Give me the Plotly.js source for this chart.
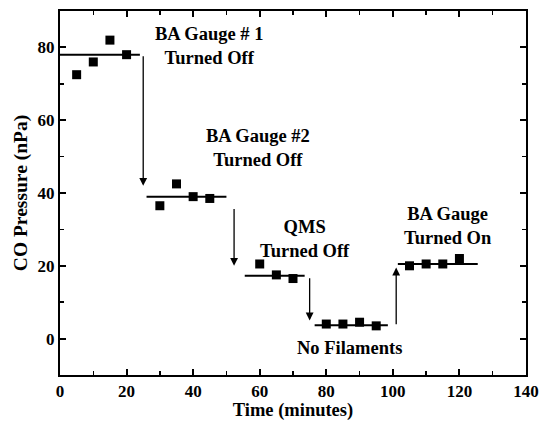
<!DOCTYPE html>
<html><head><meta charset="utf-8">
<script src="https://cdn.plot.ly/plotly-3.0.1.min.js"></script>
<style>html,body{margin:0;padding:0;background:#fff}</style>
</head><body><div id="chart" style="width:543px;height:421px"></div>
<script>
// measured points (time in minutes, CO pressure in nPa)
const timeMin = [5, 10, 15, 20, 30, 35, 40, 45, 60, 65, 70, 80, 85, 90, 95, 105, 110, 115, 120];
const pressure = [72.5, 76, 82, 78, 36.5, 42.5, 39, 38.5, 20.5, 17.5, 16.5, 4, 4, 4.5, 3.5, 20, 20.5, 20.5, 22];

// average levels (horizontal segments)
const levelStart = [0, 26, 55.5, 76.5, 101.5];
const levelEnd = [24, 50, 73.5, 98.5, 125.5];
const levelValue = [78, 39, 17.3, 3.7, 20.5];

// transition arrows
const arrowX = [25, 52.3, 75, 101];
const arrowFrom = [78, 36, 17, 3.5];
const arrowTo = [42, 20, 5, 19.5];

// labels
const labelText = ["BA Gauge # 1<br>Turned Off", "BA Gauge #2<br>Turned Off", "QMS<br>Turned Off", "BA Gauge<br>Turned On", "No Filaments"];
const labelX = [44.7, 59.5, 73.5, 116.5, 87];
const labelY = [80.5, 52.5, 27.5, 31, -2.6];

const font = "Liberation Serif, Times New Roman, serif";
const traces = [];
for (let i = 0; i < levelValue.length; i++) {
  traces.push({x: [levelStart[i], levelEnd[i]], y: [levelValue[i], levelValue[i]], mode: 'lines',
    line: {color: '#000', width: 2}, showlegend: false, hoverinfo: 'skip'});
}
traces.push({x: timeMin, y: pressure, mode: 'markers', type: 'scatter',
  marker: {symbol: 'square', size: 9, color: '#000'}, showlegend: false});

const annotations = [];
for (let i = 0; i < arrowX.length; i++) {
  annotations.push({x: arrowX[i], y: arrowTo[i], ax: arrowX[i], ay: arrowFrom[i], axref: 'x', ayref: 'y',
    xref: 'x', yref: 'y', showarrow: true, arrowhead: 2, arrowsize: 1.2, arrowwidth: 1.3, arrowcolor: '#000', text: ''});
}
for (let i = 0; i < labelText.length; i++) {
  annotations.push({x: labelX[i], y: labelY[i], xref: 'x', yref: 'y', text: '<b>' + labelText[i] + '</b>',
    showarrow: false, font: {family: font, size: 18.5, color: '#000'}, align: 'center'});
}

const axisCommon = {showgrid: false, zeroline: false, showline: true, linecolor: '#000', linewidth: 2,
  mirror: 'allticks', ticks: 'inside', ticklen: 6, tickwidth: 2, tickcolor: '#000',
  tickfont: {family: font, size: 17, color: '#000', weight: 'bold'}};

const layout = {
  width: 543, height: 421,
  margin: {l: 60, r: 17, t: 11, b: 46},
  paper_bgcolor: '#fff', plot_bgcolor: '#fff',
  font: {family: font, color: '#000'},
  xaxis: Object.assign({}, axisCommon, {range: [0, 140], dtick: 20, tick0: 0,
    minor: {dtick: 10, ticks: 'inside', ticklen: 4, tickwidth: 1.5, tickcolor: '#000'},
    title: {text: '<b>Time (minutes)</b>', font: {family: font, size: 18.5, color: '#000'}, standoff: 4}}),
  yaxis: Object.assign({}, axisCommon, {range: [-10, 90], dtick: 20, tick0: 0,
    minor: {dtick: 10, ticks: 'inside', ticklen: 4, tickwidth: 1.5, tickcolor: '#000'},
    title: {text: '<b>CO Pressure (nPa)</b>', font: {family: font, size: 19.5, color: '#000'}, standoff: 5}}),
  annotations: annotations
};
Plotly.newPlot('chart', traces, layout, {staticPlot: true});
</script></body></html>
